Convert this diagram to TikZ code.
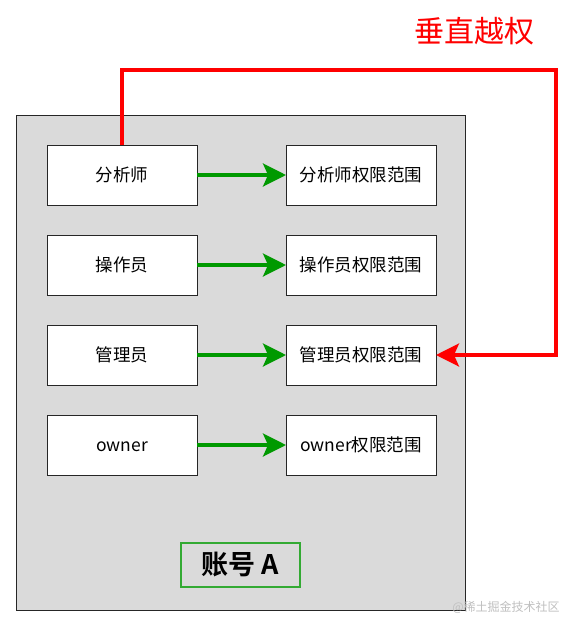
\documentclass[tikz,border=0pt]{standalone}
\usepackage{fontspec}
\setmainfont{Noto Sans CJK SC}[BoldFont={Noto Sans CJK SC Bold}]
\usetikzlibrary{arrows.meta,positioning}
\definecolor{acctgray}{HTML}{DADADA}
\definecolor{grantgreen}{HTML}{009900}
\definecolor{labelgreen}{HTML}{33AA33}
\definecolor{escred}{HTML}{FF0000}
\tikzset{
  rolebox/.style={draw=black!85, line width=0.9pt, fill=white, minimum width=150pt, minimum height=60pt, inner sep=0pt, outer sep=0pt, text height=15.4pt, text depth=2.1pt, font=\fontsize{17.5}{20}\selectfont},
  grantarr/.style={-{Stealth[length=23pt,width=23pt,inset=5pt]}, line width=3.2pt, draw=grantgreen},
  escarr/.style={-{Stealth[length=23pt,width=23pt,inset=5pt]}, line width=3.3pt, draw=escred},
}

\begin{document}
\begin{tikzpicture}[x=1pt, y=1pt]
  \useasboundingbox (0,0) rectangle (578,-632);
  % account container
  \draw[draw=black!85, line width=1pt, fill=acctgray] (16,-115) rectangle (465,-610);
  % roles and their scopes
  \node[rolebox] (analyst) at (122,-175) {分析师};
  \node[rolebox, below=30pt of analyst] (operator) {操作员};
  \node[rolebox, below=30pt of operator] (admin) {管理员};
  \node[rolebox, below=30pt of admin] (owner) {owner};
  \node[rolebox, right=89pt of analyst] (analystscope) {分析师权限范围};
  \node[rolebox, right=89pt of operator] (operatorscope) {操作员权限范围};
  \node[rolebox, right=89pt of admin] (adminscope) {管理员权限范围};
  \node[rolebox, right=89pt of owner] (ownerscope) {owner权限范围};
  \foreach \a/\b in {analyst/analystscope,operator/operatorscope,admin/adminscope,owner/ownerscope}
    \draw[grantarr] (\a) -- (\b);
  % vertical privilege escalation
  \coordinate (escturn) at (556,-70);
  \draw[escarr] (analyst.north) |- (escturn) |- (adminscope.east);
  \node[text=escred, font=\fontsize{30}{33}\selectfont] (esctitle) at (474,-31) {垂直越权};
  \node[draw=labelgreen, line width=1.3pt, minimum width=119pt, minimum height=44pt, inner sep=0pt, font=\fontsize{27}{29}\selectfont\bfseries] (acctlabel) at (240.5,-565) {账号 A};
  \node[text=black!25, font=\fontsize{12}{14}\selectfont] (watermark) at (506,-607) {@稀土掘金技术社区};
\end{tikzpicture}
\end{document}
